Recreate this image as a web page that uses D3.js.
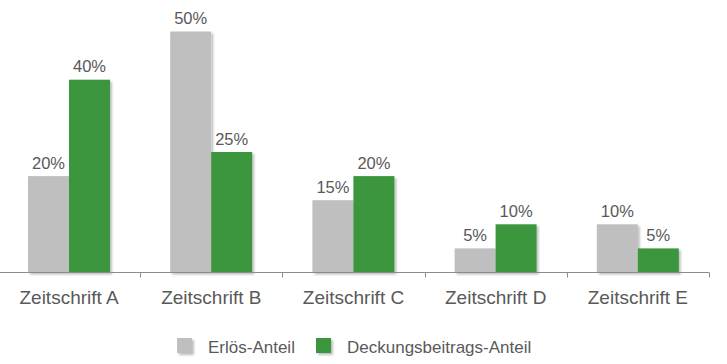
<!DOCTYPE html>
<html>
<head>
<meta charset="utf-8">
<script src="https://cdn.jsdelivr.net/npm/d3@7"></script>
<style>
  body { margin: 0; background: #fff; }
  text { font-family: "Liberation Sans", Arial, sans-serif; fill: #595959; }
</style>
</head>
<body>
<svg width="727" height="364"></svg>
<script>
const categories = ['Zeitschrift A', 'Zeitschrift B', 'Zeitschrift C', 'Zeitschrift D', 'Zeitschrift E']
const seriesNames = ['Erlös-Anteil', 'Deckungsbeitrags-Anteil']
const erloes = [20, 50, 15, 5, 10]
const deckung = [40, 25, 20, 10, 5]
const colors = ['#bfbfbf', '#3a963c']

const values = [erloes, deckung]
const svg = d3.select('svg')

// drop shadow like the original
const defs = svg.append('defs')
const f = defs.append('filter').attr('id', 'shadow')
  .attr('x', '-20%').attr('y', '-20%').attr('width', '150%').attr('height', '150%')
f.append('feDropShadow')
  .attr('dx', 2).attr('dy', 2).attr('stdDeviation', 1.2)
  .attr('flood-color', '#000').attr('flood-opacity', 0.25)

const x0 = d3.scaleBand().domain(categories).range([-2, 709])
const x1 = d3.scaleBand().domain(seriesNames).range([30, 112])
const y = d3.scaleLinear().domain([0, 50]).range([272.5, 31.5])

const data = categories.map((c, i) => ({
  cat: c,
  vals: seriesNames.map((s, j) => ({ s, j, v: values[j][i] })),
}))

const groups = svg.selectAll('g.grp')
  .data(data)
  .join('g')
  .attr('class', 'grp')
  .attr('transform', d => `translate(${x0(d.cat)},0)`)

groups.selectAll('rect')
  .data(d => d.vals)
  .join('rect')
  .attr('x', d => x1(d.s))
  .attr('width', x1.bandwidth())
  .attr('y', d => y(d.v))
  .attr('height', d => y(0) - y(d.v))
  .attr('fill', d => colors[d.j])
  .attr('filter', 'url(#shadow)')

groups.selectAll('text.val')
  .data(d => d.vals)
  .join('text')
  .attr('class', 'val')
  .attr('x', d => x1(d.s) + x1.bandwidth() / 2)
  .attr('y', d => y(d.v) - 7.5)
  .attr('text-anchor', 'middle')
  .style('font-size', '16.5px')
  .text(d => d.v + '%')

// axis
const axis = svg.append('g').attr('transform', `translate(0,${y(0)})`)
axis.append('line')
  .attr('x1', -2).attr('x2', 709)
  .attr('stroke', '#8c8c8c').attr('stroke-width', 1)
axis.selectAll('line.tick')
  .data(categories.map(c => x0(c) + x0.bandwidth()))
  .join('line')
  .attr('class', 'tick')
  .attr('x1', d => Math.round(d) + 0.5).attr('x2', d => Math.round(d) + 0.5)
  .attr('y1', 0).attr('y2', 5)
  .attr('stroke', '#8c8c8c')
axis.selectAll('text')
  .data(categories)
  .join('text')
  .attr('x', d => x0(d) + x0.bandwidth() / 2)
  .attr('y', 31)
  .attr('text-anchor', 'middle')
  .style('font-size', '19px')
  .text(d => d)

// legend
const legendX = [177, 316]
const legend = svg.append('g')
legend.selectAll('rect')
  .data(seriesNames)
  .join('rect')
  .attr('x', (d, i) => legendX[i])
  .attr('y', 338)
  .attr('width', 15).attr('height', 15)
  .attr('fill', (d, i) => colors[i])
  .attr('filter', 'url(#shadow)')
legend.selectAll('text')
  .data(seriesNames)
  .join('text')
  .attr('x', (d, i) => legendX[i] + 31)
  .attr('y', 353)
  .style('font-size', '17px')
  .text(d => d)
</script>
</body>
</html>
